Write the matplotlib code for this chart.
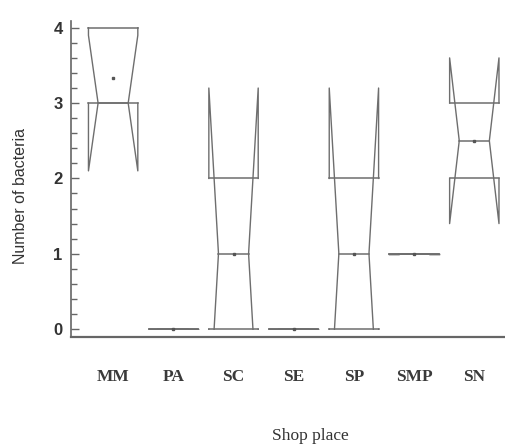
import numpy as np
import matplotlib
matplotlib.use("Agg")
import matplotlib.pyplot as plt
from matplotlib.patches import Rectangle

# data
places = ["MM", "PA", "SC", "SE", "SP", "SMP", "SN"]
q1 = [3, 0, 0, 0, 0, 1, 2]
q3 = [4, 0, 2, 0, 2, 1, 3]
medians = [3, 0, 1, 0, 1, 1, 2.5]
means = [3.33, 0, 1, 0, 1, 1, 2.5]
notch_lo = [2.1, 0, -1.2, 0, -1.2, 1, 1.4]
notch_hi = [3.9, 0, 3.2, 0, 3.2, 1, 3.6]

col = "#6e6e6e"
hw = 0.41   # box half width
nw = 0.25   # notch half width at the median

fig = plt.figure(figsize=(5.05, 4.45), dpi=100)
ax = fig.add_axes([71/505, 1 - 337/445, 1 - 71/505, (337 - 21)/445])

clip = Rectangle((-1, -0.012), 10, 10, transform=ax.transData)

for i in range(len(places)):
    for s in (-1, 1):
        xs = [i + s*hw, i + s*hw, i + s*nw, i + s*hw, i + s*hw]
        ys = [q1[i], notch_lo[i], medians[i], notch_hi[i], q3[i]]
        ln, = ax.plot(xs, ys, color=col, lw=1)
        ln.set_clip_path(clip)
    ax.plot([i - hw, i + hw], [q1[i], q1[i]], color=col, lw=1.1)
    ax.plot([i - hw, i + hw], [q3[i], q3[i]], color=col, lw=1.1)
    ax.plot([i - nw, i + nw], [medians[i], medians[i]], color=col, lw=1.1)
    ax.plot(i, means[i], marker="s", ms=2, color="#555555", mec="#555555")

ax.set_xlim(-0.7, 6.51)
ax.set_ylim(-0.106, 4.09)

ax.spines["top"].set_visible(False)
ax.spines["right"].set_visible(False)
ax.spines["left"].set_color("#666666")
ax.spines["bottom"].set_color("#666666")
ax.spines["left"].set_linewidth(1.2)
ax.spines["bottom"].set_linewidth(1.6)

ax.set_yticks([0, 1, 2, 3, 4])
ax.set_yticks(np.arange(0, 4.01, 0.2), minor=True)
ax.tick_params(axis="y", which="major", direction="in", length=5.5, width=1,
               color="#666666", pad=6)
ax.tick_params(axis="y", which="minor", direction="in", length=4, width=1,
               color="#666666")
for lab in ax.get_yticklabels():
    lab.set_fontfamily("Liberation Sans")
    lab.set_fontsize(12)
    lab.set_fontweight("bold")
    lab.set_color("#333333")

ax.set_xticks(range(len(places)))
ax.set_xticklabels(places, fontfamily="Liberation Serif", fontsize=12.5,
                   fontweight="bold", color="#3a3a3a")
ax.tick_params(axis="x", length=0, pad=23)

fig.text(310/505, 1 - 436/445, "Shop place", fontfamily="Liberation Serif",
         fontsize=12.5, color="#333333", ha="center", va="center")
ax.set_ylabel("Number of bacteria", fontfamily="Liberation Sans", fontsize=11.5,
              color="#333333")
ax.yaxis.set_label_coords(-0.1, 0.445)

fig.savefig("out.png", dpi=100)
